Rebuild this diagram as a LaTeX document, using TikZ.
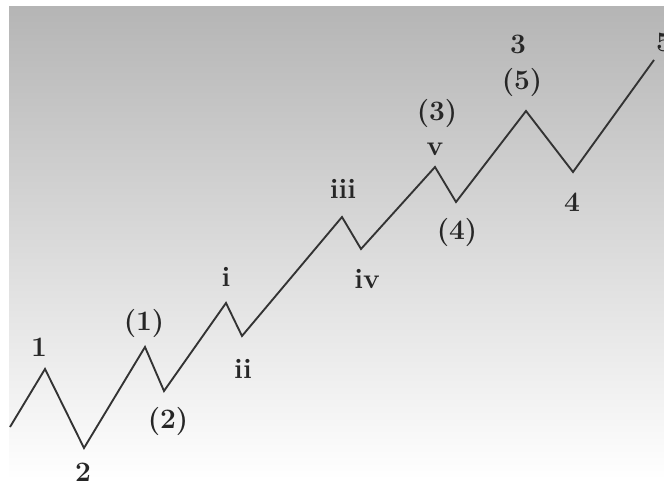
\documentclass[tikz,border=0pt]{standalone}
\begin{document}
\begin{tikzpicture}[
  x=0.03cm, y=-0.03cm,
  every node/.style={font=\fontsize{24}{28}\selectfont\bfseries, inner sep=0pt, text=black!85},
  wave/.style={line width=1.6pt, draw=black!80},
]
\useasboundingbox (0,0) rectangle (664,500);
\fill[white] (0,0) rectangle (664,500);
\shade[top color=black!29, bottom color=white] (9,6) rectangle (664,480);

% turning points of the wave
\coordinate (s0) at (10,427);
\coordinate (p1) at (45,369);
\coordinate (t2) at (84,448);
\coordinate (p3) at (145,347);
\coordinate (t4) at (164,391);
\coordinate (p5) at (226,303);
\coordinate (t6) at (242,336);
\coordinate (p7) at (342,217);
\coordinate (t8) at (361,249);
\coordinate (p9) at (435,167);
\coordinate (t10) at (456,202);
\coordinate (p11) at (526,111);
\coordinate (t12) at (573,172);
\coordinate (e13) at (654,60);

\draw[wave] (s0) -- (p1) -- (t2) -- (p3) -- (t4) -- (p5) -- (t6)
  -- (p7) -- (t8) -- (p9) -- (t10) -- (p11) -- (t12) -- (e13);

\node (one)   at (39,347)  {1};
\node (two)   at (83,472)  {2};
\node (pone)  at (144,323) {(1)};
\node (ptwo)  at (168,421) {(2)};
\node (ri)    at (226,277) {i};
\node (rii)   at (243,369) {ii};
\node (riii)  at (343,189) {iii};
\node (riv)   at (367,279) {iv};
\node (rv)    at (435,149) {v};
\node (pthr)  at (437,113) {(3)};
\node (pfour) at (457,232) {(4)};
\node (three) at (518,44)  {3};
\node (pfive) at (522,82)  {(5)};
\node (four)  at (572,202) {4};
\node (five)  at (664,42)  {5};
\end{tikzpicture}
\end{document}
